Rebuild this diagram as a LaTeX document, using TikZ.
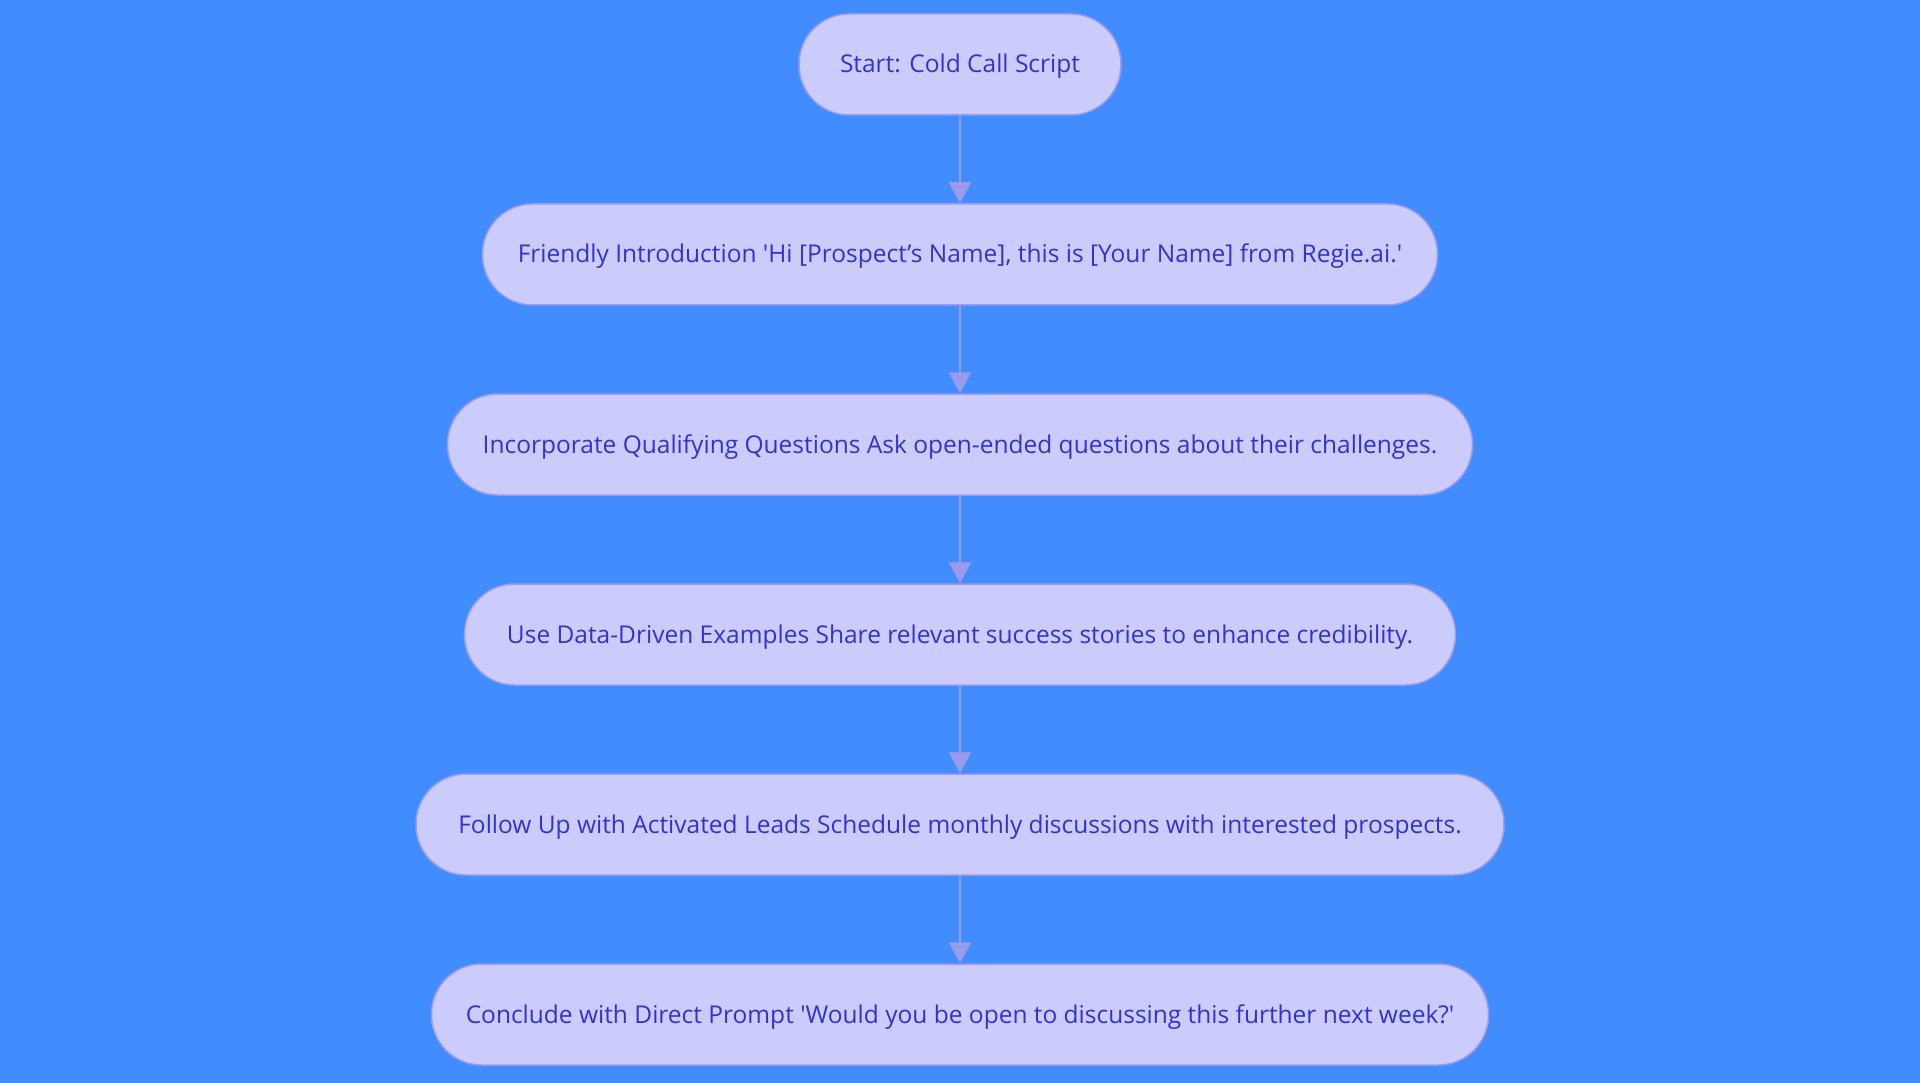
\documentclass[tikz,border=0pt]{standalone}
\usepackage{fontspec}
\setmainfont{Open Sans}
\usetikzlibrary{arrows.meta}
\definecolor{bg}{HTML}{418CFF}
\definecolor{nodefill}{HTML}{CBCBFC}
\definecolor{nodedraw}{HTML}{9B9BEB}
\definecolor{txt}{HTML}{3333CC}
\definecolor{arr}{HTML}{9B9BEE}
\newcommand{\sq}{\textquotesingle}
\newcommand{\ctr}[1]{\raisebox{-8.5pt}[0pt][0pt]{#1}}
\tikzset{
  x=1pt, y=-1pt,
  box/.style={draw=nodedraw, line width=1.5pt, fill=nodefill, rounded corners=50pt,
    minimum height=101pt, inner sep=0pt, text=txt,
    font=\fontsize{24.5}{29}\selectfont},
  conn/.style={draw=arr, line width=2.5pt, -{Triangle[length=21pt,width=22pt]}}
}
\begin{document}
\begin{tikzpicture}
\fill[bg] (0,0) rectangle (1920,1083);
\useasboundingbox (0,0) rectangle (1920,1083);
\node[box, minimum width=322pt] (n1) at (960,64.5) {\ctr{Start: Cold Call Script}};
\node[box, minimum width=955pt] (n2) at (960,254.5) {\ctr{Friendly Introduction \sq Hi [Prospect’s Name], this is [Your Name] from Regie.ai.\sq}};
\node[box, minimum width=1025pt] (n3) at (960,444.5) {\ctr{Incorporate Qualifying Questions Ask open-ended questions about their challenges.}};
\node[box, minimum width=991pt] (n4) at (960,634.5) {\ctr{Use Data-Driven Examples Share relevant success stories to enhance credibility.}};
\node[box, minimum width=1088pt] (n5) at (960,824.5) {\ctr{Follow Up with Activated Leads Schedule monthly discussions with interested prospects.}};
\node[box, minimum width=1057pt] (n6) at (960,1014.5) {\ctr{Conclude with Direct Prompt \sq Would you be open to discussing this further next week?\sq}};
\draw[conn] (n1) -- (n2);
\draw[conn] (n2) -- (n3);
\draw[conn] (n3) -- (n4);
\draw[conn] (n4) -- (n5);
\draw[conn] (n5) -- (n6);
\end{tikzpicture}
\end{document}
